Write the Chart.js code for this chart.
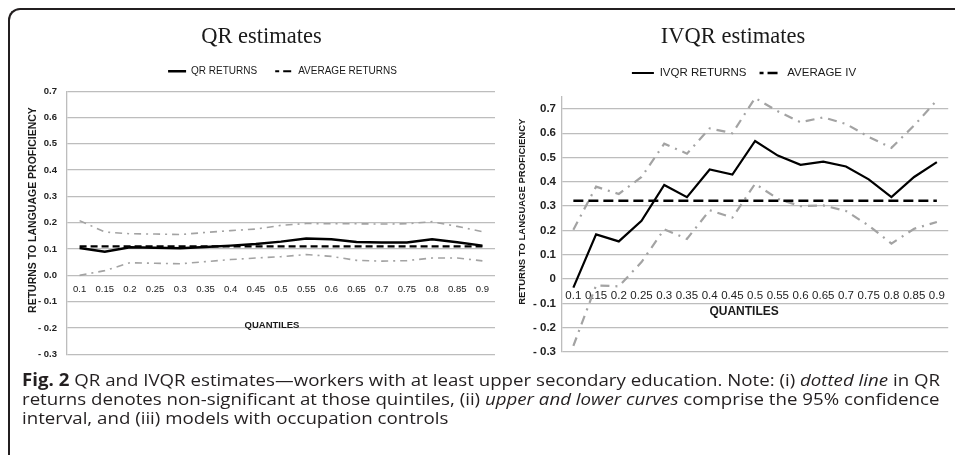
<!DOCTYPE html>
<html>
<head>
<meta charset="utf-8">
<script src="https://cdn.jsdelivr.net/npm/chart.js@4.4.1/dist/chart.umd.min.js"></script>
<style>
  html, body { margin: 0; padding: 0; background: #fff; }
  body { width: 955px; height: 455px; position: relative; overflow: hidden; }
  #frame {
    position: absolute; left: 8px; top: 8px; width: 970px; height: 470px;
    border-top: 2px solid #231f20; border-left: 2px solid #231f20;
    border-top-left-radius: 12px;
  }
  .box { position: absolute; top: 15px; }
  #leftBox { left: 15px; }
  #rightBox { left: 500px; }
  #caption {
    position: absolute; left: 22px; top: 370px;
    font-family: "Open Sans", sans-serif; font-size: 17px; line-height: 19px;
    color: #231f20; white-space: nowrap; transform-origin: 0 0;
  }
  #caption div { display: block; }
</style>
</head>
<body>
<div id="frame"></div>
<div class="box" id="leftBox"><canvas id="qrChart" width="485" height="355"></canvas></div>
<div class="box" id="rightBox"><canvas id="ivqrChart" width="455" height="355"></canvas></div>
<div id="caption">
  <div id="capLine1"><b>Fig. 2</b> QR and IVQR estimates—workers with at least upper secondary education. Note: (i) <i>dotted line</i> in QR</div>
  <div>returns denotes non-significant at those quintiles, (ii) <i>upper and lower curves</i> comprise the 95% confidence</div>
  <div>interval, and (iii) models with occupation controls</div>
</div>

<script>
// quantile labels shared by both panels
const quantiles = ['0.1', '0.15', '0.2', '0.25', '0.3', '0.35', '0.4', '0.45', '0.5',
                   '0.55', '0.6', '0.65', '0.7', '0.75', '0.8', '0.85', '0.9'];
// value axis ticks (same on both panels)
const yTickValues = [-0.3, -0.2, -0.1, 0, 0.1, 0.2, 0.3, 0.4, 0.5, 0.6, 0.7];

// QR panel
const qrReturns = [0.104, 0.09, 0.107, 0.105, 0.103, 0.108, 0.113, 0.119, 0.128, 0.14, 0.137, 0.127, 0.125, 0.125, 0.137, 0.126, 0.113];
const qrAverage = [0.11, 0.11, 0.11, 0.11, 0.11, 0.11, 0.11, 0.11, 0.11, 0.11, 0.11, 0.11, 0.11, 0.11, 0.11, 0.11, 0.11];
const qrUpper   = [0.208, 0.165, 0.158, 0.157, 0.155, 0.163, 0.17, 0.176, 0.19, 0.197, 0.196, 0.196, 0.195, 0.196, 0.204, 0.186, 0.166];
const qrLower   = [0.0, 0.018, 0.048, 0.046, 0.044, 0.052, 0.06, 0.066, 0.071, 0.079, 0.072, 0.057, 0.054, 0.056, 0.066, 0.066, 0.055];

// IVQR panel
const ivqrReturns = [-0.035, 0.184, 0.155, 0.24, 0.387, 0.337, 0.451, 0.43, 0.568, 0.508, 0.47, 0.483, 0.463, 0.41, 0.337, 0.42, 0.481];
const ivAverage   = [0.322, 0.322, 0.322, 0.322, 0.322, 0.322, 0.322, 0.322, 0.322, 0.322, 0.322, 0.322, 0.322, 0.322, 0.322, 0.322, 0.322];
const ivUpper     = [0.203, 0.38, 0.35, 0.42, 0.557, 0.516, 0.62, 0.6, 0.745, 0.69, 0.645, 0.665, 0.638, 0.585, 0.54, 0.632, 0.735];
const ivLower     = [-0.275, -0.026, -0.03, 0.07, 0.205, 0.165, 0.283, 0.253, 0.392, 0.33, 0.3, 0.303, 0.28, 0.22, 0.146, 0.207, 0.235];

const SANS = '"Liberation Sans", Arial, sans-serif';
const SERIF = '"Liberation Serif", "Times New Roman", serif';
const GRID = '#bdbdbd';
const CI_GREY = '#a3a3a3';

// axis titles: QUANTILES under the labels on the zero line, and the rotated y title
const axisTitles = {
  id: 'axisTitles',
  afterDraw(chart, args, opts) {
    const { ctx, chartArea, scales } = chart;
    const y0 = scales.y.getPixelForValue(0);
    const midY = (chartArea.top + chartArea.bottom) / 2;
    ctx.save();
    ctx.fillStyle = '#1a1a1a';
    ctx.textAlign = 'center';
    ctx.textBaseline = 'middle';
    ctx.font = 'bold ' + opts.qFont + 'px ' + SANS;
    ctx.fillText('QUANTILES', (chartArea.left + chartArea.right) / 2 + opts.qDx, y0 + opts.qDy);
    ctx.translate(opts.yTitleX, midY + opts.yTitleDy);
    ctx.rotate(-Math.PI / 2);
    ctx.font = 'bold ' + opts.yFont + 'px ' + SANS;
    ctx.fillText('RETURNS TO LANGUAGE PROFICIENCY', 0, 0);
    ctx.restore();
  }
};

// extra room under the legend and a sideways nudge of it
const legendTweak = {
  id: 'legendTweak',
  afterInit(chart, args, opts) {
    const legend = chart.legend;
    const fit = legend.fit;
    legend.fit = function () {
      fit.call(this);
      this.height += opts.extra;
    };
  },
  afterLayout(chart, args, opts) {
    chart.legend.left += opts.dx;
    chart.legend.right += opts.dx;
  }
};

function fmtTick(v, zeroText) {
  const r = Math.round(v * 10) / 10;
  if (Math.abs(r) < 1e-9) return zeroText;
  if (r < 0) return '- ' + Math.abs(r).toFixed(1);
  return r.toFixed(1);
}

function makePanel(id, s) {
  return new Chart(document.getElementById(id), {
    type: 'line',
    data: {
      labels: quantiles,
      datasets: [
        { label: s.names[0], data: s.main, borderColor: '#000', borderWidth: s.mainWidth, legendDash: [] },
        { label: s.names[1], data: s.avg, borderColor: '#000', borderWidth: s.avgWidth, borderDash: s.avgDash, legendDash: s.legendDash },
        { label: 'upper', data: s.upper, borderColor: CI_GREY, borderWidth: s.ciWidth, borderDash: s.ciDash },
        { label: 'lower', data: s.lower, borderColor: CI_GREY, borderWidth: s.ciWidth, borderDash: s.ciDash }
      ]
    },
    options: {
      responsive: false,
      animation: false,
      elements: { point: { radius: 0 }, line: { tension: 0, fill: false, borderCapStyle: 'butt' } },
      layout: { padding: { left: s.padLeft, right: 5, top: 0, bottom: s.padBottom } },
      scales: {
        x: {
          position: { y: 0 },
          offset: true,
          grid: { display: false, drawTicks: false },
          border: { display: false },
          ticks: {
            autoSkip: false, maxRotation: 0, minRotation: 0,
            padding: s.xPad, color: '#222',
            font: { family: SANS, size: s.xFont }
          }
        },
        y: {
          min: -0.3, max: s.yMax,
          grid: { color: GRID, lineWidth: 1.3, drawTicks: false },
          border: { display: true, color: GRID, width: 1.3 },
          ticks: {
            padding: s.yPad, color: '#222',
            font: { family: SANS, size: s.yFont, weight: 'bold' },
            callback: v => fmtTick(v, s.zeroText)
          },
          afterBuildTicks: scale => {
            scale.ticks = yTickValues.map(v => ({ value: v }));
          },
          afterFit: scale => { scale.width = s.yWidth; }
        }
      },
      plugins: {
        title: {
          display: true, text: s.title, color: '#1a1a1a',
          font: { family: SERIF, size: 22.5, weight: 'normal', lineHeight: 1 },
          padding: { top: 10.75, bottom: s.titleGap }
        },
        legend: {
          labels: {
            usePointStyle: true, pointStyle: 'line', pointStyleWidth: s.legendBox,
            color: '#1a1a1a', padding: s.legendPad,
            font: { family: SANS, size: s.legendFont },
            generateLabels: chart => Chart.defaults.plugins.legend.labels.generateLabels(chart)
              .filter(item => item.datasetIndex < 2)
              .map(item => Object.assign(item, { lineDash: chart.data.datasets[item.datasetIndex].legendDash }))
          },
          onClick: null
        },
        tooltip: { enabled: false },
        legendTweak: { extra: s.legendExtra, dx: s.legendDx },
        axisTitles: {
          qFont: s.qFont, qDx: s.qDx, qDy: s.qDy,
          yFont: s.yTitleFont, yTitleX: s.yTitleX, yTitleDy: -12.7
        }
      }
    },
    plugins: [axisTitles, legendTweak]
  });
}

makePanel('qrChart', {
  title: 'QR estimates', names: ['QR RETURNS', 'AVERAGE RETURNS'],
  main: qrReturns, avg: qrAverage, upper: qrUpper, lower: qrLower,
  mainWidth: 2.4, avgWidth: 2.2, avgDash: [7, 4], legendDash: [4, 4, 8],
  ciWidth: 1.6, ciDash: [7, 5, 2, 5],
  yMax: 0.7, zeroText: '0.0', padLeft: 13, yWidth: 39, yPad: 10, padBottom: 15,
  xFont: 9.5, xPad: 8, yFont: 9.5, yTitleFont: 10.5, yTitleX: 18,
  legendFont: 10, legendBox: 18, legendPad: 18, titleGap: 0, legendExtra: 4.9, legendDx: 21,
  qFont: 9.5, qDx: -9, qDy: 50
});

makePanel('ivqrChart', {
  title: 'IVQR estimates', names: ['IVQR RETURNS', 'AVERAGE IV'],
  main: ivqrReturns, avg: ivAverage, upper: ivUpper, lower: ivLower,
  mainWidth: 2.2, avgWidth: 2.6, avgDash: [10, 5], legendDash: [4, 4, 10],
  ciWidth: 2.2, ciDash: [9, 6, 2, 6],
  yMax: 0.75, zeroText: '0', padLeft: 16, yWidth: 46, yPad: 6, padBottom: 18,
  xFont: 11.5, xPad: 10, yFont: 11.5, yTitleFont: 9.5, yTitleX: 22,
  legendFont: 11.5, legendBox: 22, legendPad: 13, titleGap: 6, legendExtra: 8, legendDx: 11,
  qFont: 12, qDx: -11, qDy: 33
});

// squeeze the caption to the width of the printed figure caption
const cap = document.getElementById('caption');
const line1 = document.getElementById('capLine1');
const natural = line1.getBoundingClientRect().width;
cap.style.transform = 'scaleX(' + (918 / natural) + ')';
</script>
</body>
</html>
